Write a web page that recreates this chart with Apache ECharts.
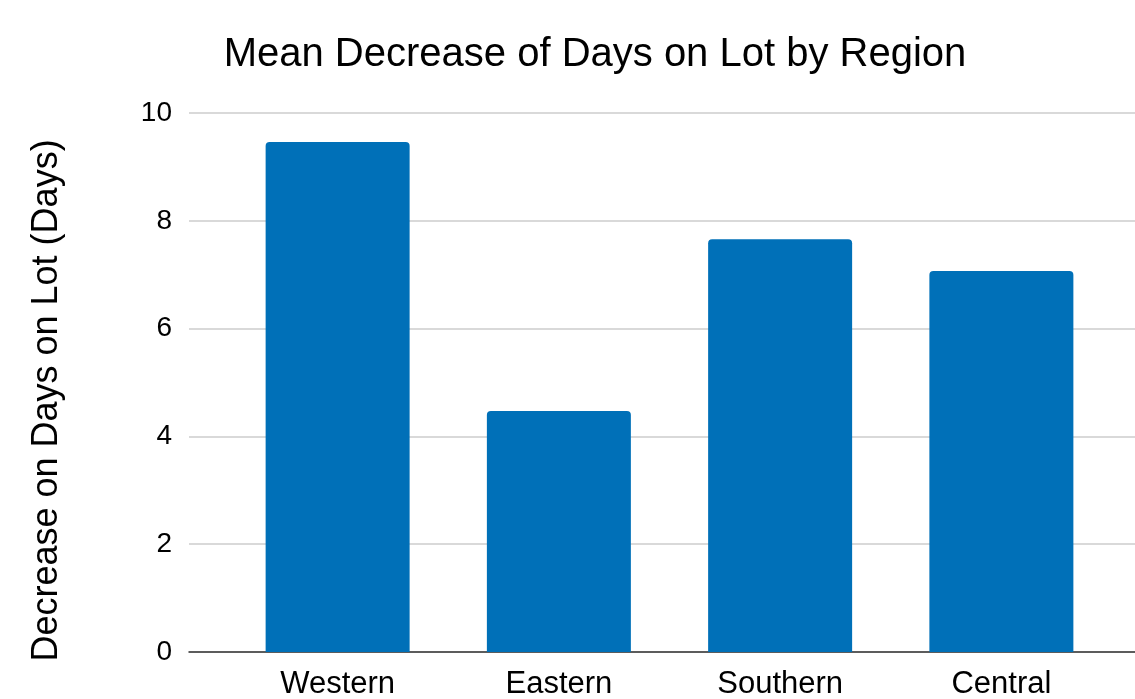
<!DOCTYPE html>
<html><head><meta charset="utf-8">
<script src="https://cdn.jsdelivr.net/npm/echarts@6/dist/echarts.min.js"></script>
<style>html,body{margin:0;padding:0;background:#fff}#c{width:1135px;height:699px}</style>
</head><body><div id="c"></div>
<script>
const categories = ['Western', 'Eastern', 'Southern', 'Central'];
const values = [9.46, 4.47, 7.66, 7.07];
const yTicks = [0, 2, 4, 6, 8, 10];
const titleText = 'Mean Decrease of Days on Lot by Region';
const yName = 'Decrease on Days on Lot (Days)';

const font = 'Liberation Sans, Arial, sans-serif';
const chart = echarts.init(document.getElementById('c'));
chart.setOption({
  animation: false,
  title: { text: titleText, left: 590, top: 30, textAlign: 'center',
    textStyle: { fontFamily: font, fontSize: 40, fontWeight: 'normal', color: '#000' } },
  grid: [
    { left: 189, right: -10, top: 113, bottom: 47, outerBoundsMode: 'none', containLabel: false },
    { left: 227, width: 885, top: 113, bottom: 47, outerBoundsMode: 'none', containLabel: false }
  ],
  xAxis: [
    { gridIndex: 0, type: 'category', data: [''], axisLine: { lineStyle: { color: '#333', width: 1.5 } },
      axisTick: { show: false }, axisLabel: { show: false } },
    { gridIndex: 1, type: 'category', data: categories, axisLine: { show: false }, axisTick: { show: false },
      axisLabel: { fontFamily: font, fontSize: 31, color: '#000', margin: 17 } }
  ],
  yAxis: [
    { gridIndex: 0, type: 'value', min: yTicks[0], max: yTicks[yTicks.length - 1], interval: 2,
      name: yName, nameLocation: 'middle', nameGap: 124, nameRotate: 90,
      nameTextStyle: { fontFamily: font, fontSize: 36, color: '#000', padding: [0, 36, 0, 0] },
      axisLine: { show: false }, axisTick: { show: false },
      axisLabel: { fontFamily: font, fontSize: 28, color: '#000', margin: 17 },
      splitLine: { lineStyle: { color: '#cccccc', width: 1.5 } } },
    { gridIndex: 1, type: 'value', min: yTicks[0], max: yTicks[yTicks.length - 1], interval: 2,
      axisLine: { show: false }, axisTick: { show: false }, axisLabel: { show: false }, splitLine: { show: false } }
  ],
  series: [{
    type: 'bar', xAxisIndex: 1, yAxisIndex: 1, data: values, barWidth: 144,
    itemStyle: { color: '#0070b8', borderRadius: [4, 4, 0, 0] }
  }]
});
</script></body></html>
